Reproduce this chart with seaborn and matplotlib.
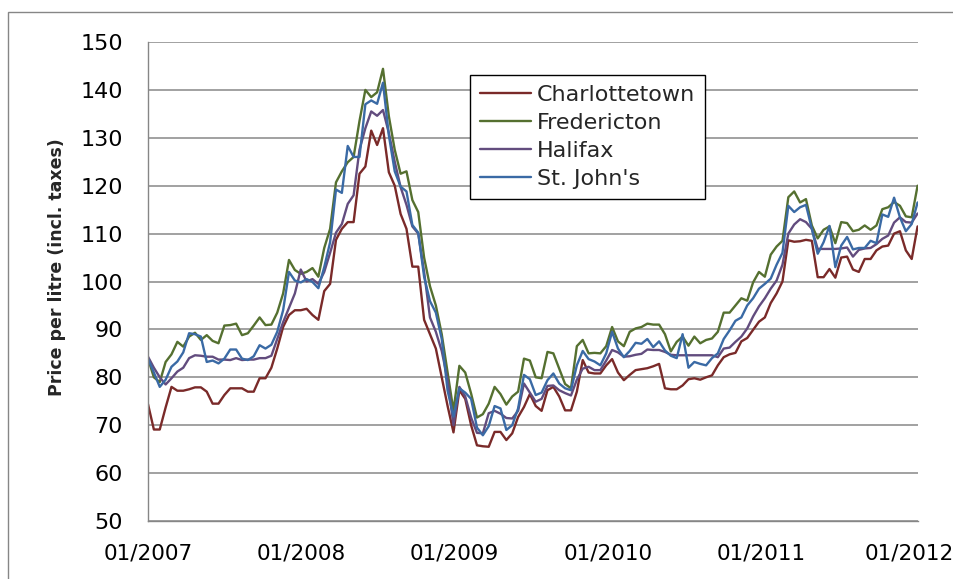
# Weekly gasoline prices, Atlantic Canada capitals, 2007-2012 (values read every second week)

import pandas as pd
import matplotlib
matplotlib.use('Agg')
import matplotlib.pyplot as plt
import matplotlib.patches as mpatches
import matplotlib.transforms as mtransforms
import seaborn as sns

cities = ['Charlottetown', 'Fredericton', 'Halifax', "St. John's"]
colors = ['#7A2A29', '#557030', '#624C7E', '#3A6AA5']

charlottetown = [
    74.4, 69.1, 69.1, 73.7, 78.0, 77.2, 77.2, 77.5, 77.9, 77.9,
    77.0, 74.5, 74.5, 76.3, 77.7, 77.7, 77.7, 77.0, 77.0, 79.8,
    79.8, 82.0, 86.0, 90.5, 93.0, 94.0, 94.0, 94.3, 93.0, 92.0,
    98.0, 99.5, 108.7, 111.0, 112.4, 112.4, 122.5, 124.0, 131.5, 128.5,
    132.0, 122.8, 120.0, 114.1, 111.0, 103.1, 103.1, 92.0, 89.0, 86.0,
    80.0, 74.0, 68.5, 77.3, 75.5, 70.0, 65.8, 65.6, 65.5, 68.6,
    68.6, 66.9, 68.3, 71.7, 73.8, 76.5, 74.0, 73.0, 77.3, 78.0,
    76.0, 73.1, 73.1, 77.0, 83.6, 81.0, 80.8, 80.8, 82.5, 83.8,
    81.0, 79.4, 80.5, 81.5, 81.7, 81.9, 82.3, 82.8, 77.7, 77.5,
    77.5, 78.3, 79.6, 79.8, 79.5, 80.0, 80.4, 82.5, 84.2, 84.8,
    85.1, 87.5, 88.2, 89.9, 91.6, 92.5, 95.5, 97.5, 100.0, 108.6,
    108.3, 108.4, 108.7, 108.5, 100.9, 100.9, 102.6, 100.8, 105.0, 105.2,
    102.5, 102.0, 104.7, 104.7, 106.5, 107.3, 107.5, 110.0, 110.5, 106.5,
    104.7, 111.5]

fredericton = [
    83.9, 80.0, 79.0, 83.2, 84.8, 87.4, 86.4, 88.5, 89.3, 87.8,
    88.8, 87.6, 87.1, 90.8, 90.9, 91.2, 88.8, 89.2, 90.8, 92.5,
    90.9, 91.0, 93.5, 97.5, 104.5, 102.4, 101.6, 102.0, 102.8, 101.0,
    107.0, 111.0, 120.7, 123.0, 124.9, 126.0, 133.5, 140.0, 138.5, 139.5,
    144.4, 134.5, 127.5, 122.5, 123.0, 117.0, 114.5, 105.0, 99.0, 95.0,
    89.0, 81.0, 73.0, 82.4, 81.0, 76.6, 71.6, 72.3, 74.5, 78.0,
    76.5, 74.3, 76.0, 77.0, 83.9, 83.5, 80.0, 79.8, 85.3, 85.0,
    81.8, 78.6, 77.7, 86.5, 87.8, 85.0, 85.1, 85.0, 86.5, 90.5,
    87.5, 86.5, 89.5, 90.2, 90.5, 91.2, 91.0, 91.0, 89.0, 85.4,
    87.4, 88.5, 86.6, 88.5, 87.1, 87.8, 88.1, 89.5, 93.5, 93.5,
    95.0, 96.5, 96.0, 99.8, 102.0, 101.0, 105.6, 107.3, 108.5, 117.6,
    118.8, 116.5, 117.2, 111.7, 109.0, 110.8, 111.5, 108.0, 112.4, 112.2,
    110.5, 110.8, 111.7, 110.8, 111.7, 115.1, 115.5, 116.6, 115.8, 113.6,
    113.4, 120.0]

halifax = [
    84.3, 82.0, 80.0, 78.5, 79.8, 81.2, 82.0, 84.0, 84.6, 84.5,
    84.3, 84.3, 83.7, 83.7, 83.6, 84.0, 83.6, 83.7, 83.7, 84.0,
    84.0, 84.5, 88.0, 91.5, 94.5, 97.5, 102.5, 100.0, 100.5, 99.5,
    102.0, 106.0, 110.2, 112.0, 116.2, 118.0, 127.5, 132.0, 135.5, 134.6,
    135.8, 131.0, 125.0, 119.7, 116.0, 111.5, 110.0, 102.0, 92.5, 89.5,
    85.5, 79.5, 70.0, 78.0, 76.0, 71.6, 68.4, 68.3, 72.5, 73.0,
    72.4, 71.5, 71.4, 73.0, 78.7, 76.8, 74.9, 75.5, 78.2, 78.3,
    77.3, 76.7, 76.2, 79.5, 81.8, 82.2, 81.5, 81.5, 83.5, 85.7,
    85.2, 84.3, 84.4, 84.7, 84.9, 85.8, 85.7, 85.7, 85.3, 84.7,
    84.6, 84.6, 84.6, 84.6, 84.6, 84.6, 84.6, 84.2, 86.0, 86.2,
    87.4, 88.5, 90.2, 92.7, 94.8, 96.5, 98.5, 100.2, 103.5, 110.0,
    111.9, 113.0, 112.4, 111.0, 106.8, 106.8, 106.8, 106.8, 106.9, 107.1,
    105.2, 106.6, 106.9, 107.0, 107.8, 108.9, 109.6, 112.3, 113.4, 112.4,
    112.3, 114.2]

st_johns = [
    83.9, 81.0, 78.0, 79.5, 82.2, 83.3, 85.2, 89.2, 89.0, 88.5,
    83.2, 83.5, 82.9, 83.9, 85.8, 85.8, 83.9, 83.6, 84.4, 86.7,
    86.0, 86.8, 89.5, 94.0, 102.0, 100.2, 99.8, 100.5, 99.9, 98.6,
    103.0, 108.2, 119.2, 118.5, 128.3, 126.0, 126.0, 137.0, 137.8, 137.1,
    141.5, 130.5, 123.0, 119.8, 118.8, 111.8, 110.2, 101.0, 95.9, 93.5,
    88.0, 77.2, 71.8, 77.7, 76.8, 75.5, 69.5, 67.9, 69.8, 74.0,
    73.5, 69.0, 70.0, 73.5, 80.5, 79.6, 76.3, 76.8, 79.4, 80.8,
    78.7, 77.7, 77.3, 82.5, 85.5, 83.8, 83.3, 82.5, 85.0, 89.5,
    86.0, 84.2, 85.5, 87.2, 87.0, 88.0, 86.3, 87.5, 85.6, 84.5,
    84.0, 89.0, 82.0, 83.2, 82.8, 82.5, 84.0, 85.0, 88.0, 89.8,
    91.8, 92.5, 95.0, 96.5, 98.5, 99.5, 100.6, 103.5, 106.0, 115.8,
    114.5, 115.5, 116.0, 111.0, 105.8, 108.2, 111.6, 103.0, 107.5, 109.3,
    106.7, 107.0, 107.0, 108.5, 108.0, 114.0, 113.5, 117.5, 113.4, 110.5,
    112.0, 116.5]

tick_years = [2007, 2008, 2009, 2010, 2011, 2012]
tick_labels = ['01/2007', '01/2008', '01/2009', '01/2010', '01/2011', '01/2012']

# Build a long table for seaborn
dates = pd.date_range('2007-01-01', periods=len(charlottetown), freq='14D')
wide = pd.DataFrame({'Date': dates, 'Charlottetown': charlottetown,
                     'Fredericton': fredericton, 'Halifax': halifax,
                     "St. John's": st_johns})
long_df = wide.melt(id_vars='Date', var_name='City', value_name='Price')

sns.set_style('white')
plt.rcParams['font.family'] = ['DejaVu Sans']

fig = plt.figure(figsize=(9.54, 5.79), dpi=100)
ax = fig.add_axes([148 / 954, 1 - 521 / 579, (918 - 148) / 954, (521 - 42) / 579])

sns.lineplot(data=long_df, x='Date', y='Price', hue='City', hue_order=cities,
             palette=dict(zip(cities, colors)), linewidth=1.7, ax=ax)

# Axes look like the Excel original
ax.set_ylim(50, 150)
ax.set_yticks(range(50, 151, 10))
ax.set_xlim(pd.Timestamp('2007-01-01'), pd.Timestamp('2012-01-10'))
ax.set_xticks([pd.Timestamp(f'{y}-01-01') for y in tick_years])
ax.set_xticklabels(tick_labels)
ax.set_xlabel('')
ax.set_ylabel('')

ax.yaxis.grid(True, color='#9a9a9a', linewidth=1.3)
ax.xaxis.grid(False)
ax.set_axisbelow(True)
for side in ['top', 'right']:
    ax.spines[side].set_visible(False)
for side in ['left', 'bottom']:
    ax.spines[side].set_color('#868686')
    ax.spines[side].set_linewidth(1.0)

ax.tick_params(axis='both', direction='out', length=6, width=1, color='#868686',
               labelcolor='black')
ax.tick_params(axis='y', pad=12, labelsize=16)
ax.tick_params(axis='x', pad=10, labelsize=15.5)

# the last date label sits a little left of its tick so it stays inside the picture
last = ax.get_xticklabels()[-1]
last.set_transform(last.get_transform() +
                   mtransforms.ScaledTranslation(-5 / 100, 0, fig.dpi_scale_trans))

fig.text(57 / 954, 1 - 267 / 579, 'Price per litre (incl. taxes)', rotation=90,
         ha='center', va='center', fontsize=12.5, fontweight='bold')

handles, labels = ax.get_legend_handles_labels()
leg = ax.legend(handles, labels, loc='upper left',
                bbox_to_anchor=((470 - 148) / 770, (521 - 75) / 479),
                frameon=True, fancybox=False, framealpha=1, edgecolor='black',
                fontsize=16, handlelength=2.3, handletextpad=0.25,
                labelspacing=0.36, borderpad=0.45, borderaxespad=0)
leg.get_frame().set_linewidth(1.0)

# Chart area border (cut off at right and bottom in the original)
fig.add_artist(mpatches.Rectangle((8 / 954, -0.1), 1.2, 0.1 + (579 - 12) / 579,
                                  transform=fig.transFigure, fill=False,
                                  edgecolor='#868686', linewidth=1.0))

fig.savefig('out.png', dpi=100)
